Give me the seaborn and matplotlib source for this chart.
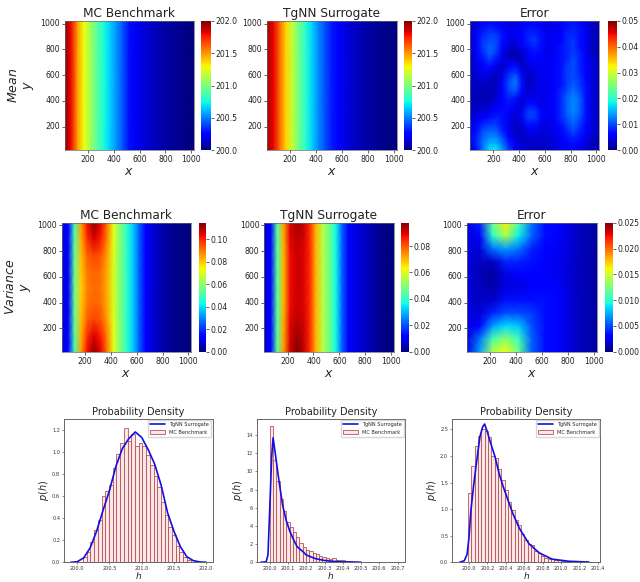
"""Mean / variance maps and probability densities, MC benchmark vs TgNN surrogate."""

import numpy as np
import matplotlib
matplotlib.use("Agg")
import matplotlib.pyplot as plt
import seaborn as sns

sns.set_style("ticks")
plt.rcParams['font.family'] = 'DejaVu Sans'
plt.rcParams['mathtext.default'] = 'it'

W, H = 640, 582

GRID_TICKS = [200, 400, 600, 800, 1000]

# head of each map, value at x = 20, 70, ... 1020
mean_mc_profile = [201.99, 201.80, 201.48, 201.28, 201.08, 200.92, 200.78, 200.66, 200.54, 200.42, 200.28,
                   200.21, 200.17, 200.14, 200.11, 200.08, 200.06, 200.04, 200.026, 200.012, 200.0]
mean_tg_profile = [201.94, 201.82, 201.60, 201.36, 201.16, 200.96, 200.80, 200.66, 200.52, 200.40, 200.30,
                   200.22, 200.18, 200.14, 200.11, 200.08, 200.06, 200.04, 200.024, 200.012, 200.0]

# variance rows, y = 20, 145, 270, 395, 520 (lower half, mirrored above)
var_mc_r0 = [.010, .013, .050, .085, .103, .112, .105, .090, .072, .058, .047, .038, .025, .013, .009, .006, .004, .002, .001, .0005, 0]
var_mc_r1 = [.010, .013, .052, .083, .099, .106, .101, .089, .072, .058, .047, .038, .025, .013, .009, .006, .004, .002, .001, .0005, 0]
var_mc_r2 = [.010, .012, .053, .081, .093, .096, .094, .085, .071, .058, .047, .038, .025, .013, .009, .006, .004, .002, .001, .0005, 0]
var_mc_r3 = [.010, .012, .055, .080, .090, .092, .091, .084, .070, .058, .047, .038, .025, .013, .009, .006, .004, .002, .001, .0005, 0]
var_mc_r4 = [.010, .012, .055, .079, .089, .091, .090, .083, .070, .058, .047, .038, .025, .013, .009, .006, .004, .002, .001, .0005, 0]

var_tg_r0 = [.008, .011, .045, .073, .091, .098, .093, .085, .070, .056, .048, .037, .022, .012, .009, .007, .005, .003, .0015, .0007, 0]
var_tg_r1 = [.008, .011, .045, .072, .090, .095, .092, .085, .070, .056, .048, .037, .022, .012, .009, .007, .005, .003, .0015, .0007, 0]
var_tg_r2 = [.008, .011, .045, .071, .089, .092, .091, .085, .070, .056, .048, .037, .022, .012, .009, .007, .005, .003, .0015, .0007, 0]
var_tg_r3 = [.008, .011, .045, .070, .088, .091, .090, .085, .070, .056, .048, .037, .022, .012, .009, .007, .005, .003, .0015, .0007, 0]

# error of the mean in units of 1e-3, rows y = 20, 70, ... 1020, columns x = 20, 70, ... 1020
err_mean_milli = [
    [3, 7, 12, 17, 18, 14, 9, 5, 4, 3.5, 3, 3, 3, 4, 5, 6, 6, 5, 4, 3, 2],
    [4, 8, 12, 15, 15, 12, 8, 5, 3.5, 3.5, 3.5, 3, 3.5, 4, 5, 6, 7, 6, 4, 3, 2],
    [5, 8, 11, 13, 13, 10, 6, 4, 3, 3.5, 4, 3.5, 4, 4, 6, 7, 8, 7, 5, 3, 2],
    [5, 7, 10, 11, 11, 8, 5, 3, 3, 5, 5, 4, 4, 5, 6, 8, 10, 8, 6, 4, 2.5],
    [5, 6, 8, 9, 9, 7, 5, 3, 4, 7, 7, 5, 4, 5, 7, 9, 11, 9, 6, 4, 2.5],
    [4, 5, 6, 7, 8, 7, 5, 3.5, 5, 9, 9, 6, 5, 6, 8, 10, 12, 10, 7, 4, 2.5],
    [3, 3.5, 4, 5, 6, 7, 6, 4, 5, 9, 9, 6, 5, 6, 8, 11, 13, 11, 7, 4, 2.5],
    [3, 3, 3, 3, 5, 6, 7, 5, 4, 7, 7, 5, 5, 6, 8, 11, 13, 11, 7, 4, 2.5],
    [2.5, 2.5, 2.5, 2.5, 3.5, 6, 8, 7, 4, 5, 5, 4.5, 5, 6, 8, 11, 13, 11, 7, 4, 2.5],
    [2.5, 3, 2.5, 2.5, 3, 6, 9, 10, 6, 3.5, 4, 5, 5, 6, 8, 10, 12, 10, 7, 4, 2.5],
    [2.5, 3, 3, 2.5, 3, 6, 10, 12, 7, 3, 4, 5, 5, 6, 7, 9, 11, 9, 7, 4, 2.5],
    [3, 3.5, 4, 3.5, 2.5, 5, 9, 12, 7, 3, 4, 5, 5, 6, 7, 9, 10, 9, 6, 4, 2.5],
    [3, 4, 5, 5, 3, 4, 8, 9, 5, 3, 4, 5, 5, 6, 7, 9, 10, 8, 6, 4, 2.5],
    [3, 4, 6, 7, 5, 3, 6, 7, 3.5, 4, 5, 5, 5, 6, 7, 9, 10, 8, 6, 4, 2.5],
    [3, 5, 7, 9, 7, 4, 4, 3, 2.5, 5, 6, 6, 5, 6, 7, 8, 10, 8, 6, 4, 2],
    [3, 6, 8, 11, 9, 5, 2.5, 2, 3, 6, 7, 6, 5, 5, 7, 8, 9, 8, 5, 3, 2],
    [3, 6, 9, 11, 10, 6, 4, 3, 5, 7, 8, 7, 5, 5, 7, 8, 9, 7, 5, 3, 2],
    [3, 6, 9, 10, 10, 7, 5, 4, 6, 8, 9, 7, 5, 5, 6, 8, 9, 7, 5, 3, 2],
    [3, 6, 8, 9, 9, 7, 5, 5, 6, 8, 8, 7, 5, 5, 6, 8, 8, 7, 5, 3, 2],
    [3, 5, 7, 8, 7, 6, 5, 5, 6, 7, 7, 6, 5, 5, 6, 7, 8, 7, 5, 3, 2],
    [3, 4, 6, 6, 6, 5, 4, 4, 5, 6, 6, 5, 4, 5, 6, 7, 7, 6, 4, 3, 2],
]
# error of the variance, rows y = 20, 120, ... 1020, columns x = 20, 120, ... 1020
err_var = [
    [.002, .007, .014, .016, .012, .0055, .0035, .003, .002, .0012, .0008],
    [.002, .006, .011, .013, .0105, .0055, .0035, .003, .002, .0012, .0008],
    [.002, .003, .007, .0085, .008, .005, .0035, .003, .002, .0012, .0008],
    [.002, .002, .004, .005, .005, .0045, .0035, .003, .002, .0012, .0008],
    [.002, .0015, .0018, .0035, .0035, .0035, .0035, .003, .002, .0012, .0008],
    [.002, .0015, .001, .0022, .0022, .0028, .003, .0028, .0018, .0012, .0008],
    [.002, .0012, .0007, .0022, .0028, .003, .003, .0025, .0018, .0012, .0008],
    [.002, .0015, .0015, .004, .004, .0035, .003, .0025, .0018, .0012, .0008],
    [.002, .002, .006, .007, .006, .004, .003, .0025, .002, .0012, .0008],
    [.002, .003, .010, .014, .009, .0055, .0035, .003, .002, .0012, .0008],
    [.002, .004, .012, .0165, .011, .006, .0035, .003, .002, .0012, .0008],
]

# density panels
hist1_start, hist1_width = 200.09, 0.0575
hist1_heights = [.05, .09, .18, .29, .38, .60, .65, .70, .85, .98, 1.08, 1.22, 1.10, 1.16, 1.05, 1.08, 1.05, .97,
                 .88, .78, .68, .55, .43, .32, .25, .15, .09, .05, .02]
curve1_x = [199.9, 200.0, 200.1, 200.2, 200.3, 200.4, 200.5, 200.6, 200.7, 200.8, 200.9, 201.0, 201.1, 201.2,
            201.3, 201.4, 201.5, 201.6, 201.7, 201.8, 201.9, 202.0]
curve1_y = [0, .005, .04, .13, .28, .47, .65, .87, 1.03, 1.12, 1.18, 1.13, 1.02, .89, .70, .45, .28, .14, .05, .015, .003, 0]

hist2_start, hist2_width = 200.0, 0.018
hist2_heights = [15.0, 11.3, 9.0, 7.0, 5.6, 4.4, 3.9, 3.3, 2.8, 2.1, 1.7, 1.4, 1.2, 1.05, .9, .7, .55, .5, .4, .45,
                 .3, .25, .2, .15, .1, .08, .05, .03]
curve2_x = [199.95, 199.98, 199.99, 200.0, 200.01, 200.018, 200.03, 200.05, 200.07, 200.09, 200.11, 200.13, 200.15,
            200.18, 200.2, 200.25, 200.3, 200.35, 200.4, 200.5]
curve2_y = [0, .05, .8, 6, 11.5, 13.7, 12, 9, 6.3, 4.6, 3.4, 2.5, 1.7, 1.2, .8, .4, .2, .1, .05, .01]

hist3_start, hist3_width = 199.99, 0.036
hist3_heights = [1.3, 1.82, 2.18, 2.38, 2.5, 2.47, 2.35, 2.0, 1.97, 1.75, 1.54, 1.35, 1.14, .98, .8, .7, .53, .42,
                 .35, .32, .22, .18, .12, .08, .07, .07, .05, .04, .03, .02, .01]
curve3_x = [199.9, 199.95, 199.98, 200.0, 200.02, 200.05, 200.08, 200.12, 200.15, 200.17, 200.2, 200.225, 200.28,
            200.33, 200.37, 200.475, 200.546, 200.65, 200.76, 200.9, 201.08, 201.3]
curve3_y = [0, .03, .15, .45, .95, 1.43, 1.85, 2.37, 2.55, 2.6, 2.45, 2.3, 2.0, 1.65, 1.43, .92, .64, .35, .18, .06, .02, .005]


def axes_px(fig, left, top, right, bottom):
    return fig.add_axes([left / W, 1 - bottom / H, (right - left) / W, (bottom - top) / H])


def draw_map(fig, data, box, cbox, vmin, vmax, cticks, cfmt, title, ylabel=None):
    data = np.asarray(data)
    ax = axes_px(fig, *box)
    cax = axes_px(fig, *cbox)
    sns.heatmap(data, ax=ax, cbar_ax=cax, cmap="jet", vmin=vmin, vmax=vmax, shading="gouraud",
                cbar_kws={"ticks": cticks, "format": cfmt})
    nrows, ncols = data.shape
    xstep = 1000 / (ncols - 1)
    ystep = 1000 / (nrows - 1)
    ax.set_xlim(0, ncols - 1)
    ax.set_ylim(0, nrows - 1)
    ax.set_xticks([(v - 20) / xstep for v in GRID_TICKS], [str(v) for v in GRID_TICKS], rotation=0)
    ax.set_yticks([(v - 20) / ystep for v in GRID_TICKS], [str(v) for v in GRID_TICKS], rotation=0)
    ax.tick_params(labelsize=5.6, length=2, width=0.5, pad=1.5, colors="#222222")
    cax.tick_params(labelsize=5.6, length=2, width=0.5, pad=1.5, colors="#222222")
    for spine in ax.spines.values():
        spine.set_visible(True)
        spine.set_linewidth(0.5)
        spine.set_color("#666666")
    ax.set_title(title, fontsize=8.7, pad=3, color="#222222")
    ax.set_xlabel("$x$", fontsize=9, labelpad=1)
    if ylabel:
        ax.set_ylabel(ylabel, fontsize=9, labelpad=3, linespacing=1.1)
    return ax


def draw_density(fig, box, start, width, heights, cx, cy, xlim, ylim, xticks, yticks):
    ax = axes_px(fig, *box)
    heights = np.asarray(heights)
    edges = start + width * np.arange(len(heights) + 1)
    centers = edges[:-1] + width / 2
    sns.histplot(x=centers, weights=heights, bins=edges.tolist(), ax=ax, color="#f9e6e6", edgecolor="#b5474a",
                 linewidth=0.55, alpha=1, label="MC Benchmark")
    sns.lineplot(x=cx, y=cy, ax=ax, color="#1010e0", linewidth=1.2, label="TgNN Surrogate")
    ax.set_xlim(*xlim)
    ax.set_ylim(*ylim)
    ax.set_xticks(xticks, [f"{v:.1f}" for v in xticks])
    ax.set_yticks(yticks, [f"{v:.1f}" if ylim[1] < 5 else f"{v:.0f}" for v in yticks])
    ax.tick_params(labelsize=3.6, length=1.5, width=0.4, pad=1.5, colors="#333333")
    for spine in ax.spines.values():
        spine.set_linewidth(0.7)
        spine.set_color("#666666")
    ax.set_title("Probability Density", fontsize=7, pad=2.5, color="#222222")
    ax.set_xlabel("$h$", fontsize=6.5, labelpad=-1)
    ax.set_ylabel("$p(h)$", fontsize=7, labelpad=1)
    handles, labels = ax.get_legend_handles_labels()
    order = [labels.index("TgNN Surrogate"), labels.index("MC Benchmark")]
    ax.legend([handles[i] for i in order], [labels[i] for i in order], loc="upper right", fontsize=3.6,
              frameon=True, borderaxespad=0.3, handlelength=3)
    return ax


def main():
    fig = plt.figure(figsize=(W / 100, H / 100), dpi=100)

    mean_ticks = [200.0, 200.5, 201.0, 201.5, 202.0]
    draw_map(fig, [mean_mc_profile, mean_mc_profile], (64.7, 21, 193.7, 150), (201, 21, 211, 150),
             200, 202, mean_ticks, "%.1f", "MC Benchmark", "$Mean$\n$y$")
    draw_map(fig, [mean_tg_profile, mean_tg_profile], (266.7, 21, 396.7, 150), (404.3, 21, 411.7, 150),
             200, 202, mean_ticks, "%.1f", "TgNN Surrogate")
    draw_map(fig, np.array(err_mean_milli) * 1e-3, (470, 21, 599, 150), (607.7, 21, 616.7, 150),
             0, 0.05, [0, .01, .02, .03, .04, .05], "%.2f", "Error")

    var_mc = [var_mc_r0, var_mc_r1, var_mc_r2, var_mc_r3, var_mc_r4, var_mc_r3, var_mc_r2, var_mc_r1, var_mc_r0]
    var_tg = [var_tg_r0, var_tg_r1, var_tg_r2, var_tg_r3, var_tg_r3, var_tg_r3, var_tg_r3, var_tg_r2, var_tg_r1]
    draw_map(fig, var_mc, (61.7, 222.7, 191, 351.7), (198.7, 222.7, 206, 351.7),
             0, 0.1145, [0, .02, .04, .06, .08, .10], "%.2f", "MC Benchmark", "$Variance$\n$y$")
    draw_map(fig, var_tg, (264.3, 222.7, 393.7, 351.7), (401, 222.7, 408.7, 351.7),
             0, 0.0977, [0, .02, .04, .06, .08], "%.2f", "TgNN Surrogate")
    draw_map(fig, err_var, (466.7, 222.7, 596.7, 351.7), (605, 222.7, 612.7, 351.7),
             0, 0.025, [0, .005, .01, .015, .02, .025], "%.3f", "Error")

    draw_density(fig, (64.3, 418.7, 212.7, 562.3), hist1_start, hist1_width, hist1_heights, curve1_x, curve1_y,
                 (199.8, 202.1), (0, 1.3), [200.0, 200.5, 201.0, 201.5, 202.0], [0, .2, .4, .6, .8, 1.0, 1.2])
    draw_density(fig, (257, 418.7, 405, 562.3), hist2_start, hist2_width, hist2_heights, curve2_x, curve2_y,
                 (199.93, 200.74), (0, 15.8), [200.0, 200.1, 200.2, 200.3, 200.4, 200.5, 200.6, 200.7],
                 [0, 2, 4, 6, 8, 10, 12, 14])
    draw_density(fig, (452.3, 418.7, 600, 562.3), hist3_start, hist3_width, hist3_heights, curve3_x, curve3_y,
                 (199.82, 201.42), (0, 2.7), [200.0, 200.2, 200.4, 200.6, 200.8, 201.0, 201.2, 201.4],
                 [0, .5, 1.0, 1.5, 2.0, 2.5])

    fig.savefig("out.png", dpi=100)
    plt.close(fig)


if __name__ == "__main__":
    main()
